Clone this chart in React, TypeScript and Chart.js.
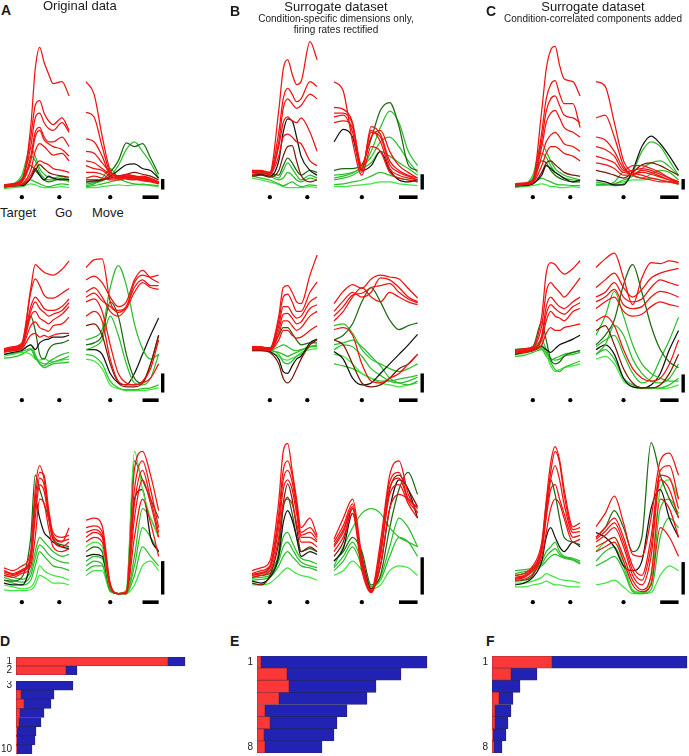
import React, { useEffect, useRef } from "react";
import { Chart, registerables } from "chart.js";

Chart.register(...registerables);

// ---------- time grids (ms) ----------
const T_LEFT = [-200, -100, 0, 100, 150, 200, 250, 300, 350, 450, 530]; // aligned on Target
const T_RIGHT = [-300, -200, -100, 0, 100, 200, 300, 400, 500, 600]; // aligned on Move
const EVENTS_LEFT = [0, 420]; // Target, Go
const EVENTS_RIGHT = [0]; // Move
const TIME_BAR = [400, 600]; // 200 ms scale bar
// vertical (rate) scale bars per column, rows 1..3
const RATE_BAR_A = [11, 20, 35];
const RATE_BAR_B = [16, 20, 39];
const RATE_BAR_C = [11, 19, 34];

// ---------- condition kinds ----------
// r = red, dr = dark red, k = black, dg = dark green, g = green, lg = light green

// Row 1
const A1L = [
  [4, 5, 8, 66, 126, 149, 133, 121, 111, 113, 98],
  [4, 6, 10, 55, 88, 93, 80, 72, 68, 75, 62],
  [5, 6, 10, 45, 75, 80, 70, 64, 62, 70, 60],
  [4, 5, 8, 35, 60, 65, 55, 50, 50, 55, 45],
  [3, 5, 8, 30, 55, 62, 52, 48, 45, 42, 35],
  [4, 4, 6, 20, 40, 48, 45, 40, 36, 38, 30],
  [3, 4, 5, 15, 25, 30, 28, 26, 22, 20, 18],
  [3, 4, 5, 12, 20, 26, 22, 18, 16, 14, 13],
  [3, 4, 4, 12, 22, 15, 10, 14, 12, 10, 11],
  [5, 6, 15, 44, 35, 22, 16, 13, 12, 14, 10],
  [5, 6, 12, 35, 30, 18, 12, 10, 10, 11, 8],
  [4, 5, 10, 25, 20, 15, 10, 8, 9, 12, 9],
  [2, 3, 5, 10, 8, 6, 4, 3, 4, 6, 5],
  [1, 2, 3, 6, 5, 3, 2, 2, 2, 3, 2],
];
const A1L_KIND = ["r", "r", "r", "r", "r", "r", "r", "dr", "k", "g", "g", "dg", "g", "lg"];

const A1R = [
  [113, 100, 56, 20, 13, 11, 10, 13, 11, 6],
  [81, 76, 45, 18, 14, 12, 11, 10, 9, 7],
  [53, 50, 35, 15, 12, 14, 12, 11, 9, 7],
  [40, 38, 28, 18, 14, 13, 12, 14, 12, 8],
  [30, 28, 22, 16, 14, 15, 14, 12, 10, 8],
  [25, 22, 20, 14, 12, 16, 14, 12, 10, 8],
  [18, 18, 16, 12, 12, 14, 13, 12, 10, 7],
  [12, 14, 12, 10, 10, 12, 11, 9, 8, 6],
  [10, 10, 10, 12, 14, 16, 18, 16, 14, 10],
  [8, 8, 10, 18, 30, 49, 45, 48, 33, 16],
  [8, 9, 10, 14, 20, 26, 27, 22, 20, 12],
  [6, 7, 9, 14, 25, 42, 50, 40, 28, 12],
  [4, 6, 12, 22, 12, 8, 6, 5, 5, 4],
  [3, 4, 6, 8, 10, 12, 14, 13, 10, 8],
  [2, 2, 3, 4, 5, 4, 5, 6, 4, 3],
];
const A1R_KIND = ["r", "r", "r", "r", "r", "r", "r", "r", "dr", "dg", "k", "g", "g", "g", "lg"];

const B1L = [
  [20, 20, 18, 83, 126, 136, 121, 110, 113, 155, 136],
  [18, 19, 18, 60, 95, 106, 100, 92, 95, 113, 108],
  [19, 18, 17, 50, 85, 95, 90, 85, 88, 100, 95],
  [16, 17, 16, 45, 70, 76, 72, 70, 75, 60, 40],
  [18, 17, 16, 35, 55, 58, 55, 50, 48, 30, 25],
  [14, 15, 13, 20, 35, 45, 46, 30, 15, 8, 10],
  [15, 16, 14, 30, 60, 74, 72, 55, 35, 20, 15],
  [20, 18, 17, 15, 25, 33, 28, 20, 15, 20, 18],
  [19, 18, 16, 12, 20, 28, 22, 15, 10, 15, 12],
  [18, 16, 14, 10, 12, 18, 15, 10, 8, 12, 10],
  [14, 12, 10, 6, 4, 6, 8, 5, 3, 5, 4],
  [12, 10, 8, 5, 3, 2, 2, 2, 2, 3, 2],
];
const B1L_KIND = ["r", "r", "r", "r", "r", "dr", "k", "dg", "g", "g", "g", "lg"];

const B1R = [
  [113, 103, 50, 15, 45, 40, 18, 12, 10, 8],
  [86, 84, 70, 20, 62, 50, 22, 15, 12, 10],
  [80, 80, 68, 22, 60, 55, 26, 18, 14, 10],
  [76, 78, 60, 18, 66, 58, 30, 20, 15, 12],
  [70, 72, 65, 25, 55, 62, 40, 25, 18, 12],
  [50, 63, 55, 20, 25, 40, 20, 10, 8, 10],
  [20, 22, 22, 26, 53, 83, 91, 66, 26, 20],
  [10, 12, 15, 22, 40, 65, 82, 70, 40, 25],
  [12, 14, 17, 24, 34, 50, 55, 45, 30, 18],
  [15, 16, 18, 22, 28, 40, 35, 28, 22, 15],
  [5, 6, 8, 10, 14, 18, 15, 12, 10, 8],
  [3, 3, 4, 5, 6, 8, 8, 6, 5, 4],
];
const B1R_KIND = ["r", "r", "r", "r", "r", "k", "dg", "g", "g", "g", "g", "lg"];

const C1L = [
  [6, 7, 10, 83, 126, 146, 150, 130, 116, 113, 98],
  [5, 6, 9, 60, 95, 110, 114, 100, 90, 90, 65],
  [5, 6, 9, 52, 82, 95, 98, 88, 78, 75, 70],
  [5, 6, 9, 45, 70, 80, 83, 75, 65, 60, 55],
  [5, 6, 8, 35, 50, 57, 60, 55, 48, 45, 40],
  [4, 5, 7, 25, 38, 45, 45, 42, 38, 35, 30],
  [4, 4, 6, 15, 25, 22, 18, 15, 12, 8, 10],
  [4, 5, 6, 18, 28, 30, 26, 22, 18, 15, 14],
  [5, 6, 15, 48, 40, 30, 22, 18, 15, 12, 10],
  [4, 5, 12, 38, 34, 25, 18, 15, 12, 10, 9],
  [4, 5, 10, 30, 28, 20, 15, 12, 10, 8, 8],
  [3, 4, 6, 12, 10, 8, 6, 5, 5, 4, 4],
  [2, 3, 4, 6, 5, 3, 3, 2, 2, 3, 2],
];
const C1L_KIND = ["r", "r", "r", "r", "r", "r", "k", "dr", "g", "g", "dg", "g", "lg"];

const C1R = [
  [113, 108, 70, 30, 18, 15, 12, 10, 8, 6],
  [75, 78, 55, 25, 15, 12, 10, 8, 8, 6],
  [55, 52, 40, 22, 16, 20, 18, 14, 10, 8],
  [45, 42, 35, 20, 25, 25, 22, 18, 12, 8],
  [35, 32, 28, 18, 20, 22, 20, 16, 12, 8],
  [28, 26, 22, 15, 16, 18, 16, 13, 10, 7],
  [20, 18, 15, 12, 18, 26, 28, 25, 20, 15],
  [10, 8, 5, 5, 20, 45, 56, 48, 35, 20],
  [8, 6, 4, 6, 18, 40, 50, 45, 30, 15],
  [5, 5, 6, 10, 14, 22, 28, 30, 24, 14],
  [6, 5, 8, 18, 15, 12, 16, 20, 18, 10],
  [4, 5, 6, 8, 10, 10, 12, 10, 8, 5],
];
const C1R_KIND = ["r", "r", "r", "r", "r", "r", "dr", "k", "g", "g", "g", "lg"];

// Row 2
const A2L = [
  [46, 48, 52, 109, 134, 130, 126, 124, 123, 129, 138],
  [45, 47, 50, 105, 119, 112, 102, 99, 99, 104, 109],
  [44, 46, 50, 90, 100, 95, 88, 86, 86, 90, 98],
  [44, 46, 49, 85, 95, 88, 84, 80, 82, 86, 94],
  [44, 45, 48, 80, 85, 78, 75, 72, 76, 82, 90],
  [43, 44, 47, 70, 74, 68, 66, 64, 70, 72, 79],
  [42, 44, 46, 60, 62, 58, 60, 58, 60, 62, 62],
  [40, 42, 44, 50, 45, 52, 55, 56, 58, 58, 60],
  [45, 46, 50, 80, 65, 40, 35, 45, 50, 52, 55],
  [44, 44, 45, 50, 40, 30, 28, 32, 35, 40, 42],
  [40, 41, 43, 46, 36, 32, 30, 30, 32, 35, 38],
  [38, 40, 42, 40, 35, 34, 36, 33, 32, 34, 35],
  [36, 37, 40, 45, 38, 30, 26, 28, 30, 31, 32],
];
const A2L_KIND = ["r", "r", "r", "r", "r", "r", "r", "k", "dg", "g", "g", "lg", "g"];

const A2R = [
  [131, 139, 140, 95, 86, 90, 115, 123, 121, 123],
  [118, 122, 115, 100, 90, 95, 118, 128, 120, 115],
  [105, 110, 100, 85, 80, 88, 105, 115, 110, 108],
  [100, 104, 96, 90, 84, 90, 110, 118, 112, 112],
  [95, 98, 85, 50, 20, 10, 8, 12, 25, 55],
  [80, 85, 75, 35, 12, 8, 8, 10, 15, 30],
  [70, 72, 60, 30, 10, 6, 6, 10, 30, 60],
  [55, 58, 66, 110, 133, 112, 72, 46, 35, 40],
  [50, 52, 60, 95, 80, 40, 15, 10, 30, 60],
  [45, 48, 55, 80, 60, 30, 10, 8, 15, 40],
  [45, 45, 40, 20, 10, 8, 20, 40, 60, 78],
  [40, 38, 30, 12, 5, 3, 3, 4, 5, 8],
  [35, 33, 25, 8, 4, 2, 2, 2, 3, 5],
];
const A2R_KIND = ["r", "r", "r", "r", "r", "r", "dr", "g", "dg", "g", "k", "g", "lg"];

const B2L = [
  [48, 48, 46, 80, 110, 112, 105, 95, 93, 123, 144],
  [47, 47, 46, 75, 100, 103, 95, 85, 85, 105, 116],
  [46, 47, 46, 70, 90, 90, 83, 78, 80, 95, 100],
  [46, 46, 45, 65, 82, 83, 78, 72, 74, 88, 92],
  [45, 46, 45, 60, 75, 75, 70, 65, 68, 80, 85],
  [45, 45, 44, 55, 65, 65, 60, 57, 58, 65, 70],
  [44, 44, 42, 30, 15, 10, 15, 25, 35, 50, 55],
  [45, 45, 43, 35, 22, 20, 28, 35, 38, 52, 56],
  [47, 47, 47, 60, 68, 68, 62, 55, 50, 52, 52],
  [45, 45, 44, 48, 50, 48, 45, 44, 45, 48, 49],
  [46, 46, 45, 40, 32, 30, 33, 38, 40, 48, 50],
  [45, 45, 44, 42, 40, 38, 40, 42, 44, 48, 48],
  [44, 44, 43, 38, 35, 34, 36, 38, 42, 45, 46],
];
const B2L_KIND = ["r", "r", "r", "r", "r", "r", "dr", "k", "dg", "g", "g", "g", "lg"];

const B2R = [
  [93, 106, 113, 109, 119, 123, 121, 119, 109, 99],
  [85, 96, 105, 100, 105, 120, 118, 110, 100, 95],
  [80, 90, 102, 104, 110, 112, 114, 105, 98, 94],
  [75, 85, 100, 110, 100, 95, 105, 100, 95, 92],
  [66, 68, 60, 30, 12, 10, 15, 20, 30, 40],
  [55, 50, 30, 10, 6, 8, 15, 25, 30, 40],
  [43, 35, 15, 8, 10, 20, 30, 40, 50, 61],
  [55, 60, 72, 95, 110, 95, 76, 66, 70, 73],
  [70, 72, 62, 45, 35, 30, 25, 22, 25, 30],
  [45, 50, 48, 38, 25, 18, 12, 10, 12, 16],
  [50, 52, 55, 48, 38, 28, 15, 10, 8, 12],
  [40, 38, 30, 20, 15, 10, 8, 6, 8, 10],
  [30, 28, 25, 20, 15, 12, 12, 14, 16, 18],
];
const B2R_KIND = ["r", "r", "r", "r", "r", "dr", "k", "dg", "g", "g", "g", "lg", "g"];

const C2L = [
  [44, 46, 48, 80, 125, 136, 134, 128, 124, 130, 138],
  [43, 45, 47, 70, 105, 115, 110, 105, 100, 110, 120],
  [42, 44, 46, 60, 90, 100, 95, 90, 88, 95, 100],
  [42, 43, 45, 58, 82, 92, 88, 84, 82, 90, 94],
  [42, 43, 45, 55, 75, 85, 80, 78, 75, 85, 88],
  [41, 42, 44, 50, 62, 68, 65, 65, 68, 70, 72],
  [40, 42, 44, 48, 45, 42, 46, 50, 52, 56, 60],
  [45, 46, 48, 74, 55, 35, 30, 32, 38, 42, 44],
  [42, 44, 46, 55, 45, 32, 24, 22, 26, 30, 33],
  [41, 42, 44, 46, 42, 36, 34, 35, 38, 40, 42],
  [40, 41, 44, 50, 40, 28, 22, 24, 26, 28, 30],
  [38, 39, 42, 45, 38, 34, 36, 38, 40, 42, 44],
];
const C2L_KIND = ["r", "r", "r", "r", "r", "r", "k", "dg", "g", "g", "lg", "g"];

const C2R = [
  [131, 140, 146, 120, 92, 120, 136, 135, 138, 136],
  [110, 118, 125, 110, 100, 108, 120, 125, 128, 130],
  [100, 105, 115, 100, 95, 98, 110, 118, 115, 112],
  [95, 100, 108, 92, 88, 90, 100, 106, 104, 100],
  [88, 95, 100, 85, 80, 82, 90, 95, 92, 90],
  [75, 80, 70, 45, 25, 15, 12, 15, 30, 55],
  [65, 70, 50, 25, 10, 5, 5, 8, 20, 40],
  [50, 60, 76, 113, 134, 105, 70, 45, 32, 26],
  [60, 80, 106, 80, 50, 30, 20, 15, 12, 12],
  [40, 50, 70, 60, 35, 20, 12, 10, 15, 30],
  [45, 50, 40, 15, 6, 5, 8, 20, 45, 65],
  [40, 45, 35, 15, 8, 5, 5, 5, 8, 15],
  [35, 38, 30, 12, 6, 4, 4, 4, 5, 8],
  [48, 55, 60, 40, 20, 10, 15, 35, 55, 79],
];
const C2R_KIND = ["r", "r", "r", "r", "r", "r", "dr", "dg", "g", "g", "k", "g", "lg", "g"];

// Row 3
const A3L = [
  [28, 25, 30, 45, 110, 135, 120, 85, 60, 55, 70],
  [25, 22, 26, 40, 100, 128, 125, 90, 65, 60, 62],
  [24, 21, 25, 38, 90, 122, 115, 85, 62, 56, 58],
  [22, 20, 24, 35, 80, 115, 108, 80, 58, 50, 55],
  [20, 18, 22, 30, 60, 100, 95, 70, 50, 45, 48],
  [15, 14, 18, 60, 125, 110, 95, 80, 58, 52, 50],
  [12, 10, 10, 40, 100, 80, 65, 60, 55, 50, 48],
  [20, 18, 16, 25, 45, 60, 55, 50, 45, 40, 42],
  [18, 15, 13, 20, 38, 52, 48, 42, 38, 34, 33],
  [15, 12, 10, 15, 30, 45, 40, 35, 30, 28, 25],
  [10, 8, 6, 8, 15, 30, 25, 22, 20, 18, 15],
  [5, 4, 4, 5, 10, 20, 18, 15, 12, 12, 10],
];
const A3L_KIND = ["r", "r", "r", "r", "r", "dg", "k", "g", "g", "g", "lg", "lg"];

const A3R = [
  [78, 80, 72, 12, 1, 3, 131, 150, 125, 88],
  [70, 72, 66, 10, 1, 2, 110, 140, 110, 70],
  [65, 68, 62, 9, 1, 2, 95, 130, 100, 65],
  [60, 65, 60, 8, 1, 1, 80, 120, 95, 60],
  [55, 60, 55, 8, 1, 1, 60, 100, 75, 40],
  [50, 55, 50, 6, 1, 5, 150, 110, 80, 60],
  [45, 50, 45, 5, 1, 3, 140, 120, 100, 80],
  [40, 42, 40, 6, 1, 2, 100, 110, 60, 45],
  [35, 40, 38, 5, 1, 1, 40, 90, 80, 60],
  [30, 35, 32, 4, 1, 1, 20, 50, 40, 30],
  [25, 30, 30, 4, 1, 1, 30, 70, 60, 45],
  [20, 25, 25, 3, 1, 1, 10, 30, 35, 25],
];
const A3R_KIND = ["r", "r", "r", "r", "r", "lg", "dg", "k", "g", "g", "g", "lg"];

const B3L = [
  [25, 28, 35, 98, 150, 158, 130, 100, 70, 80, 62],
  [22, 25, 30, 85, 130, 140, 125, 95, 65, 70, 60],
  [21, 23, 29, 78, 120, 130, 118, 90, 62, 65, 57],
  [20, 22, 28, 70, 110, 120, 110, 85, 60, 60, 55],
  [18, 20, 25, 60, 95, 100, 95, 75, 55, 55, 50],
  [12, 10, 20, 55, 95, 116, 100, 70, 45, 50, 45],
  [14, 12, 18, 40, 75, 88, 78, 60, 40, 45, 42],
  [18, 20, 22, 45, 90, 102, 85, 60, 45, 48, 45],
  [20, 22, 25, 40, 60, 65, 55, 45, 38, 35, 32],
  [17, 18, 20, 35, 50, 55, 48, 40, 34, 30, 28],
  [15, 16, 18, 30, 40, 45, 40, 35, 30, 28, 25],
  [10, 10, 12, 20, 25, 28, 25, 22, 20, 18, 15],
];
const B3L_KIND = ["r", "r", "r", "r", "r", "dr", "k", "dg", "g", "g", "g", "lg"];

const B3R = [
  [58, 80, 100, 40, 4, 55, 125, 140, 105, 85],
  [55, 72, 95, 35, 3, 48, 118, 128, 100, 92],
  [52, 68, 92, 32, 2, 42, 112, 122, 98, 86],
  [50, 65, 90, 30, 2, 40, 105, 115, 95, 80],
  [45, 60, 85, 25, 2, 30, 90, 105, 100, 90],
  [40, 55, 90, 35, 4, 45, 110, 125, 110, 92],
  [35, 48, 85, 40, 6, 30, 90, 120, 110, 80],
  [30, 50, 70, 85, 90, 85, 70, 60, 55, 50],
  [35, 45, 60, 45, 10, 20, 70, 110, 128, 105],
  [28, 40, 55, 35, 8, 18, 50, 80, 70, 50],
  [25, 35, 50, 30, 8, 15, 40, 60, 55, 40],
  [20, 25, 35, 25, 6, 10, 25, 30, 28, 20],
];
const B3R_KIND = ["r", "r", "r", "r", "r", "dr", "k", "g", "dg", "g", "g", "lg"];

const C3L = [
  [20, 22, 30, 55, 98, 138, 155, 141, 111, 71, 75],
  [18, 20, 28, 50, 90, 128, 150, 138, 105, 68, 70],
  [17, 19, 26, 48, 85, 120, 135, 120, 95, 65, 66],
  [16, 18, 25, 45, 80, 110, 115, 100, 85, 60, 62],
  [15, 16, 22, 40, 65, 90, 100, 95, 80, 55, 58],
  [14, 15, 20, 50, 95, 120, 105, 80, 60, 55, 52],
  [10, 12, 18, 35, 60, 70, 60, 50, 45, 55, 50],
  [25, 26, 28, 35, 45, 50, 55, 45, 40, 38, 35],
  [22, 24, 26, 32, 40, 45, 48, 42, 39, 37, 33],
  [20, 22, 24, 30, 35, 40, 42, 40, 38, 36, 32],
  [12, 12, 14, 18, 22, 20, 18, 16, 15, 14, 12],
  [8, 8, 10, 12, 14, 12, 10, 10, 9, 8, 8],
];
const C3L_KIND = ["r", "r", "r", "r", "r", "dg", "k", "g", "g", "g", "lg", "lg"];

const C3R = [
  [71, 85, 103, 75, 42, 40, 80, 140, 148, 125],
  [60, 70, 80, 60, 30, 20, 60, 130, 135, 100],
  [58, 66, 75, 55, 25, 15, 50, 125, 122, 90],
  [55, 62, 70, 50, 20, 10, 40, 120, 110, 80],
  [50, 55, 60, 40, 15, 5, 20, 100, 90, 60],
  [45, 50, 55, 35, 10, 3, 10, 70, 60, 40],
  [60, 70, 88, 70, 45, 60, 159, 125, 100, 81],
  [65, 60, 50, 30, 25, 35, 90, 110, 80, 60],
  [45, 55, 60, 35, 5, 2, 20, 110, 120, 100],
  [35, 45, 50, 30, 4, 2, 12, 90, 100, 85],
  [30, 35, 40, 25, 3, 1, 5, 60, 80, 70],
  [10, 12, 15, 8, 1, 1, 2, 20, 30, 25],
];
const C3R_KIND = ["r", "r", "r", "r", "r", "r", "dg", "k", "lg", "g", "g", "lg"];

// ---------- variance bars ----------
const D_RANKS_TOP = ["1", "2"];
const D_RED_TOP = [152, 50];
const D_BLUE_TOP = [17, 11];
const D_RANKS = ["3", "4", "5", "6", "7", "8", "9", "10"];
const D_RED = [0, 5, 8, 4, 3, 1, 1, 1];
const D_BLUE = [57, 33, 27, 24, 22, 19, 18, 15];

const E_RANKS = ["1", "2", "3", "4", "5", "6", "7", "8"];
const E_RED = [4, 30, 32, 22, 8, 13, 7, 8];
const E_BLUE = [166, 114, 87, 88, 82, 67, 70, 57];

const F_RANKS = ["1", "2", "3", "4", "5", "6", "7", "8"];
const F_RED = [60, 19, 0, 7, 3, 3, 1, 2];
const F_BLUE = [135, 26, 28, 14, 16, 13, 13, 8];

// ---------- styling / layout ----------
const FONT = '"Liberation Sans", Arial, Helvetica, sans-serif';
const KIND_COLOR: Record<string, string> = {
  r: "#f21212",
  dr: "#7a1a06",
  k: "#141414",
  dg: "#1d6a12",
  g: "#2cbf2c",
  lg: "#3fe63f",
};
const Y_MIN = -12;
const Y_MAX = 165;
const EVENT_Y = -8;
const ROW_BASE = [193, 396, 598];

type LineProps = {
  traces: number[][];
  kinds: string[];
  times: number[];
  events: number[];
  xMin: number;
  xMaxWanted: number;
  pxPerMs: number;
  left: number;
  base: number;
  rateBar?: number;
};

function TracePanel(p: LineProps) {
  const ref = useRef<HTMLCanvasElement | null>(null);
  const width = Math.ceil((p.xMaxWanted - p.xMin) * p.pxPerMs);
  const xMax = p.xMin + width / p.pxPerMs;
  const height = Y_MAX - Y_MIN;
  useEffect(() => {
    if (!ref.current) return;
    const datasets: any[] = [];
    datasets.push({
      type: "scatter",
      data: p.events.map((x) => ({ x, y: EVENT_Y })),
      pointRadius: 2.1,
      pointBackgroundColor: "#000",
      pointBorderWidth: 0,
      clip: false,
    });
    if (p.rateBar !== undefined) {
      datasets.push({
        type: "line",
        data: TIME_BAR.map((x) => ({ x, y: EVENT_Y })),
        borderColor: "#000",
        borderWidth: 3.6,
        pointRadius: 0,
        borderCapStyle: "butt",
        clip: false,
      });
      datasets.push({
        type: "line",
        data: [
          { x: 650, y: 0 },
          { x: 650, y: p.rateBar },
        ],
        borderColor: "#000",
        borderWidth: 3.4,
        pointRadius: 0,
        borderCapStyle: "butt",
        clip: false,
      });
    }
    p.traces.forEach((tr, i) => {
      datasets.push({
        type: "line",
        data: p.times.map((t, j) => ({ x: t, y: tr[j] })),
        borderColor: KIND_COLOR[p.kinds[i]],
        borderWidth: 1.25,
        pointRadius: 0,
        cubicInterpolationMode: "monotone",
        fill: false,
        clip: false,
      });
    });
    const chart = new Chart(ref.current, {
      type: "line",
      data: { datasets },
      options: {
        animation: false,
        responsive: false,
        maintainAspectRatio: false,
        events: [],
        layout: { padding: 0 },
        plugins: { legend: { display: false }, tooltip: { enabled: false } },
        scales: {
          x: { type: "linear", min: p.xMin, max: xMax, display: false },
          y: { type: "linear", min: Y_MIN, max: Y_MAX, display: false },
        },
      },
    });
    return () => chart.destroy();
  }, []);
  return (
    <canvas
      ref={ref}
      width={width}
      height={height}
      style={{
        position: "absolute",
        left: p.left,
        top: p.base - Y_MAX,
        width,
        height,
      }}
    />
  );
}

type BarProps = {
  ranks: string[];
  red: number[];
  blue: number[];
  shown: string[];
  left: number;
  top: number;
  axisW: number;
  areaW: number;
  height: number;
};

function BarPanel(p: BarProps) {
  const ref = useRef<HTMLCanvasElement | null>(null);
  const width = p.axisW + p.areaW;
  useEffect(() => {
    if (!ref.current) return;
    const common = {
      categoryPercentage: 1,
      barPercentage: 1,
      borderWidth: 0.8,
      borderSkipped: false,
    };
    const chart = new Chart(ref.current, {
      type: "bar",
      data: {
        labels: p.ranks,
        datasets: [
          {
            label: "condition-specific",
            data: p.red,
            backgroundColor: "#fa3838",
            borderColor: "#9a2a3a",
            ...common,
          },
          {
            label: "condition-independent",
            data: p.blue,
            backgroundColor: "#2222b4",
            borderColor: "#24246e",
            ...common,
          },
        ] as any,
      },
      options: {
        indexAxis: "y",
        animation: false,
        responsive: false,
        maintainAspectRatio: false,
        events: [],
        layout: { padding: 0 },
        plugins: { legend: { display: false }, tooltip: { enabled: false } },
        scales: {
          x: { stacked: true, min: 0, max: p.areaW, display: false },
          y: {
            stacked: true,
            grid: { display: false, drawTicks: false },
            border: { display: false },
            afterFit: (s: any) => {
              s.width = p.axisW;
              s.paddingTop = 0;
              s.paddingBottom = 0;
            },
            ticks: {
              autoSkip: false,
              padding: 4,
              color: "#222",
              font: { family: FONT, size: 10 },
              callback: (_v: any, i: number) =>
                p.shown.includes(p.ranks[i]) ? p.ranks[i] : "",
            },
          },
        },
      } as any,
    });
    return () => chart.destroy();
  }, []);
  return (
    <canvas
      ref={ref}
      width={width}
      height={p.height}
      style={{ position: "absolute", left: p.left, top: p.top, width, height: p.height }}
    />
  );
}

const txt = (
  text: string,
  left: number,
  top: number,
  size: number,
  bold = false,
  width?: number
) => (
  <div
    key={text + left + top}
    style={{
      position: "absolute",
      left,
      top,
      width,
      textAlign: width ? "center" : "left",
      fontFamily: FONT,
      fontSize: size,
      lineHeight: `${size}px`,
      fontWeight: bold ? "bold" : "normal",
      color: "#1a1a1a",
      whiteSpace: "nowrap",
    }}
  >
    {text}
  </div>
);

export default function App() {
  const cols = [
    { leftX: 0, rightX: 82, rightPx: 0.0889, bars: RATE_BAR_A, L: [A1L, A2L, A3L], LK: [A1L_KIND, A2L_KIND, A3L_KIND], R: [A1R, A2R, A3R], RK: [A1R_KIND, A2R_KIND, A3R_KIND] },
    { leftX: 248, rightX: 330, rightPx: 0.1011, bars: RATE_BAR_B, L: [B1L, B2L, B3L], LK: [B1L_KIND, B2L_KIND, B3L_KIND], R: [B1R, B2R, B3R], RK: [B1R_KIND, B2R_KIND, B3R_KIND] },
    { leftX: 511, rightX: 592, rightPx: 0.1, bars: RATE_BAR_C, L: [C1L, C2L, C3L], LK: [C1L_KIND, C2L_KIND, C3L_KIND], R: [C1R, C2R, C3R], RK: [C1R_KIND, C2R_KIND, C3R_KIND] },
  ];
  const panels: any[] = [];
  cols.forEach((c, ci) => {
    ROW_BASE.forEach((base, ri) => {
      panels.push(
        <TracePanel
          key={`l${ci}${ri}`}
          traces={c.L[ri]}
          kinds={c.LK[ri]}
          times={T_LEFT}
          events={EVENTS_LEFT}
          xMin={-200}
          xMaxWanted={540}
          pxPerMs={0.1}
          left={c.leftX}
          base={base}
        />
      );
      panels.push(
        <TracePanel
          key={`r${ci}${ri}`}
          traces={c.R[ri]}
          kinds={c.RK[ri]}
          times={T_RIGHT}
          events={EVENTS_RIGHT}
          xMin={-300}
          xMaxWanted={668}
          pxPerMs={c.rightPx}
          left={c.rightX}
          base={base}
          rateBar={c.bars[ri]}
        />
      );
    });
  });

  return (
    <div
      style={{
        position: "absolute",
        left: 0,
        top: 0,
        width: 689,
        height: 756,
        background: "#fff",
        overflow: "hidden",
      }}
    >
      {panels}
      {txt("A", 1, 3, 14, true)}
      {txt("Original data", 43, -1, 13)}
      {txt("B", 230, 4, 14, true)}
      {txt("Surrogate dataset", 236, 0, 13, false, 200)}
      {txt("Condition-specific dimensions only,", 186, 14, 10, false, 300)}
      {txt("firing rates rectified", 186, 25, 10, false, 300)}
      {txt("C", 486, 4, 14, true)}
      {txt("Surrogate dataset", 493, 0, 13, false, 200)}
      {txt("Condition-correlated components added", 443, 14, 10, false, 300)}
      {txt("Target", 0, 206, 13)}
      {txt("Go", 55, 206, 13)}
      {txt("Move", 92, 206, 13)}
      {txt("D", 0, 634, 14, true)}
      {txt("E", 230, 634, 14, true)}
      {txt("F", 486, 634, 14, true)}
      <BarPanel ranks={D_RANKS_TOP} red={D_RED_TOP} blue={D_BLUE_TOP} shown={["1", "2"]} left={0} top={657} axisW={16} areaW={200} height={18} />
      <BarPanel ranks={D_RANKS} red={D_RED} blue={D_BLUE} shown={["3", "10"]} left={0} top={681} axisW={16} areaW={200} height={73} />
      <BarPanel ranks={E_RANKS} red={E_RED} blue={E_BLUE} shown={["1", "8"]} left={237} top={656} axisW={20} areaW={200} height={97} />
      <BarPanel ranks={F_RANKS} red={F_RED} blue={F_BLUE} shown={["1", "8"]} left={472} top={656} axisW={20} areaW={197} height={97} />
    </div>
  );
}
